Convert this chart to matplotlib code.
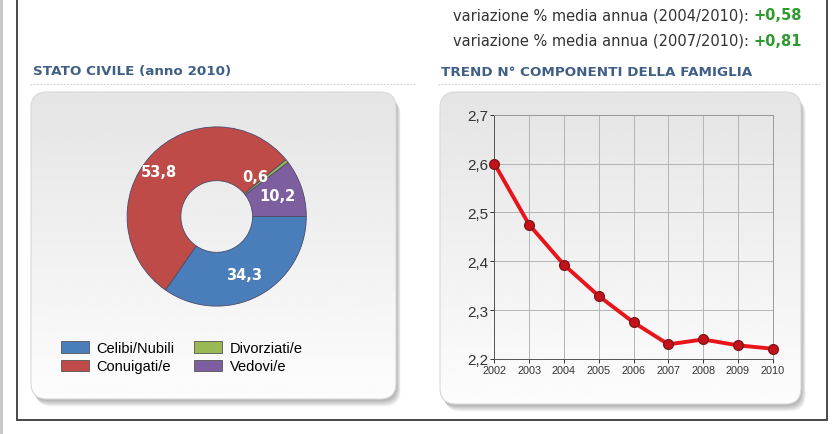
import numpy as np
import matplotlib
matplotlib.use("Agg")
import matplotlib.pyplot as plt
from matplotlib.patches import FancyBboxPatch, Patch
from matplotlib.ticker import FuncFormatter

# --- dati ---
stato_labels = ["Celibi/Nubili", "Conuigati/e", "Divorziati/e", "Vedovi/e"]
stato_valori = [34.3, 53.8, 0.6, 10.2]
stato_testi = ["34,3", "53,8", "0,6", "10,2"]
stato_colori = ["#4a7ebb", "#be4b48", "#98b954", "#7d5fa0"]

anni = [2002, 2003, 2004, 2005, 2006, 2007, 2008, 2009, 2010]
componenti = [2.60, 2.475, 2.393, 2.329, 2.275, 2.230, 2.240, 2.228, 2.221]

variazioni = [("variazione % media annua (2004/2010): ", "+0,58"),
              ("variazione % media annua (2007/2010): ", "+0,81")]

W, H = 838, 435
fig = plt.figure(figsize=(W / 100, H / 100), dpi=100)
fig.patch.set_facecolor("white")

# asse di sfondo in coordinate pixel
bg = fig.add_axes([0, 0, 1, 1], zorder=0)
bg.set_xlim(0, W)
bg.set_ylim(H, 0)
bg.axis("off")

# cornice
bg.fill_between([0, 3], 0, H, color="#c8c8c8", lw=0)
bg.plot([16.5, 16.5, 826.5, 826.5], [0, 421, 421, 0], color="#3a3a3a", lw=1.3,
        solid_joinstyle="miter")


def pannello(x0, y0, x1, y1):
    # ombra
    for i in range(7):
        sh = FancyBboxPatch((x0 + 1 + i * 0.6, y0 + 2 + i * 0.9), x1 - x0, y1 - y0,
                            boxstyle="round,pad=0,rounding_size=16",
                            fc="#000000", ec="none", alpha=0.045, zorder=1)
        bg.add_patch(sh)
    p = FancyBboxPatch((x0, y0), x1 - x0, y1 - y0,
                       boxstyle="round,pad=0,rounding_size=16",
                       fc="none", ec="#d8d8d8", lw=0.8, zorder=3)
    bg.add_patch(p)
    grad = np.linspace(0.895, 0.99, 200).reshape(-1, 1)
    im = bg.imshow(grad, cmap="gray", vmin=0, vmax=1, aspect="auto",
                   extent=(x0, x1, y1, y0), zorder=2, interpolation="bilinear")
    im.set_clip_path(p)


pannello(31, 93, 396, 400)
pannello(440, 93, 801, 405)

# intestazioni
col_tit = "#3f5f86"
bg.text(33, 72, "STATO CIVILE (anno 2010)", fontsize=9.7, fontweight="bold",
        color=col_tit, va="center", family="DejaVu Sans")
bg.text(441, 72, "TREND N° COMPONENTI DELLA FAMIGLIA", fontsize=9.7, fontweight="bold",
        color=col_tit, va="center", family="DejaVu Sans")
bg.plot([30, 415], [84.5, 84.5], color="#c5ccd6", lw=0.8, ls=(0, (1.5, 1.5)))
bg.plot([438, 820], [84.5, 84.5], color="#c5ccd6", lw=0.8, ls=(0, (1.5, 1.5)))

# righe variazione
for k, (testo, val) in enumerate(variazioni):
    t = bg.text(453, 16 + k * 25, testo, fontsize=10.5, color="#333333",
                va="center", family="DejaVu Sans")
    bg.annotate(val, xy=(1, 0.5), xycoords=t, va="center", ha="left",
                fontsize=10.5, fontweight="bold", color="#2e9a2e", family="DejaVu Sans")

# --- ciambella ---
cx, cy, r = 216.7, 217.5, 105.5
half = 112
ax1 = fig.add_axes([(cx - half) / W, 1 - (cy + half) / H, 2 * half / W, 2 * half / H], zorder=5)
ax1.set_xlim(-half / r, half / r)
ax1.set_ylim(-half / r, half / r)
ax1.axis("off")
wedges, _ = ax1.pie(stato_valori, colors=stato_colori, startangle=0, counterclock=False,
                    radius=1, wedgeprops=dict(width=0.6, edgecolor="#4a4a6a", linewidth=0.6))
raggi = [0.72, 0.82, 0.62, 0.72]
scarti = [-2, 5, 8, 0]
for w, txt, rr, d in zip(wedges, stato_testi, raggi, scarti):
    ang = np.deg2rad((w.theta1 + w.theta2) / 2 + d)
    ax1.text(rr * np.cos(ang), rr * np.sin(ang), txt, ha="center", va="center",
             color="white", fontsize=10.5, fontweight="bold", family="DejaVu Sans")

handles = [Patch(facecolor=c, edgecolor="#555555", lw=0.6) for c in stato_colori]
fig.legend(handles, stato_labels, ncol=2, loc="upper left",
           bbox_to_anchor=(61 / W, 1 - 342 / H), frameon=False,
           prop=dict(family="Liberation Sans", size=10.5),
           handlelength=1.95, handleheight=0.85, handletextpad=0.5,
           columnspacing=1.3, labelspacing=0.3, borderaxespad=0, borderpad=0)

# --- trend ---
x0p, x1p, y0p, y1p = 494.3, 772.7, 115.7, 360.0
ax2 = fig.add_axes([x0p / W, 1 - y1p / H, (x1p - x0p) / W, (y1p - y0p) / H], zorder=5)
ax2.set_facecolor("none")
ax2.plot(anni, componenti, color="#e8141b", lw=2.8, marker="o", markersize=7,
         markerfacecolor="#c8101a", markeredgecolor="#7a1a1a", markeredgewidth=1.0,
         zorder=4, clip_on=False)
ax2.set_xlim(anni[0], anni[-1])
ax2.set_ylim(2.2, 2.7)
ax2.set_xticks(anni)
ax2.set_yticks([2.2, 2.3, 2.4, 2.5, 2.6, 2.7])
ax2.yaxis.set_major_formatter(FuncFormatter(lambda v, p: f"{v:.1f}".replace(".", ",")))
ax2.grid(True, color="#b4b4b4", lw=0.7)
for s in ax2.spines.values():
    s.set_color("#9a9a9a")
    s.set_linewidth(0.7)
ax2.spines["left"].set_color("#555555")
ax2.spines["bottom"].set_color("#555555")
ax2.tick_params(axis="x", labelsize=7.8, length=3, width=0.7, pad=1.5, colors="#333333")
ax2.tick_params(axis="y", labelsize=11, length=3, width=0.7, pad=1, colors="#333333")
for lab in ax2.get_xticklabels() + ax2.get_yticklabels():
    lab.set_family("Liberation Sans")

fig.savefig("out.png", dpi=100)
